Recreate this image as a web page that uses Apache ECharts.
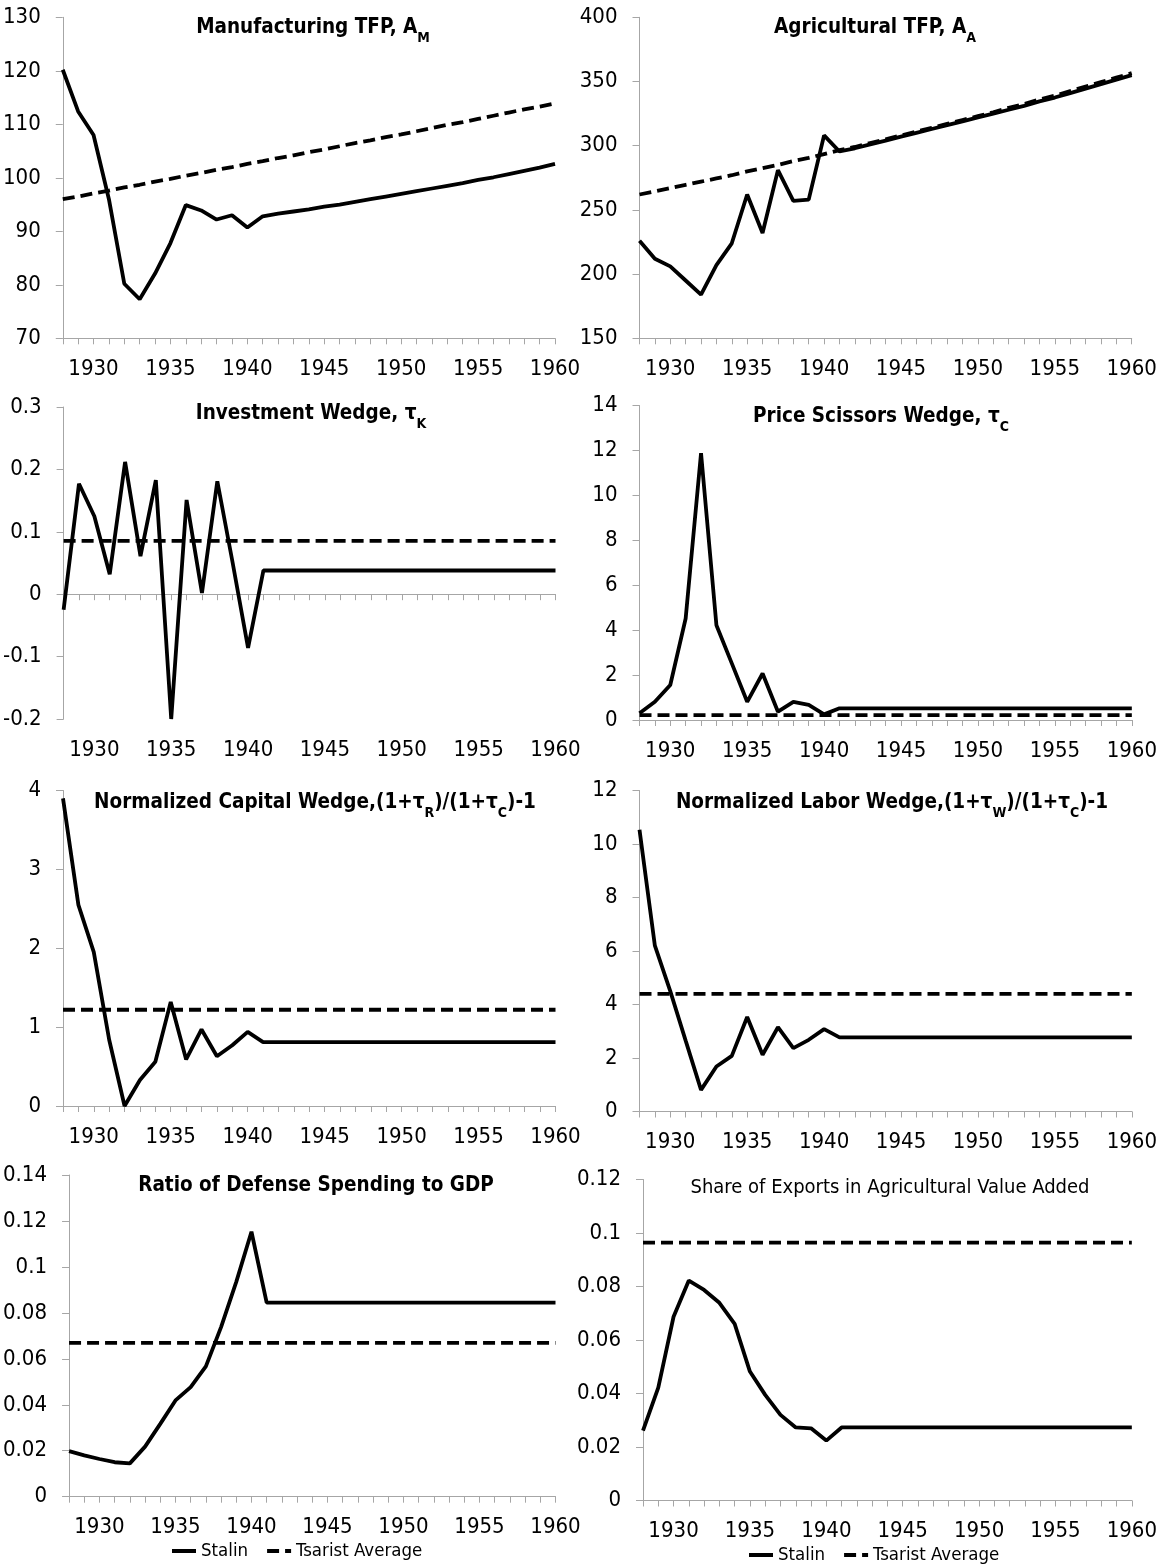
<!DOCTYPE html>
<html><head><meta charset="utf-8">
<script src="https://cdn.jsdelivr.net/npm/echarts@6/dist/echarts.min.js"></script>
<style>html,body{margin:0;padding:0;background:#fff}#c{width:1160px;height:1568px}</style>
</head><body><div id="c"></div>
<script>
// ---------------- DATA ----------------
const years = ['1928','1929','1930','1931','1932','1933','1934','1935','1936','1937','1938','1939','1940',
  '1941','1942','1943','1944','1945','1946','1947','1948','1949','1950','1951','1952','1953','1954','1955',
  '1956','1957','1958','1959','1960'];

const mfgStalin = [120.2,112.4,108.0,96.0,80.2,77.3,82.1,87.8,94.9,93.9,92.2,93.0,90.7,
  92.8,93.3,93.7,94.1,94.6,95.0,95.5,96.0,96.5,97.0,97.5,98.0,98.5,99.0,99.6,100.1,100.7,101.3,101.9,102.6];
const mfgTsar = [96.0,96.5,97.1,97.6,98.2,98.7,99.3,99.8,100.4,100.9,101.5,102.0,102.6,
  103.1,103.7,104.2,104.8,105.3,105.9,106.5,107.0,107.6,108.1,108.7,109.3,109.9,110.4,111.0,111.6,112.2,112.8,113.3,113.9];

const agrStalin = [226,212,206,195,184,207,224,262,232,281,257,258,308,
  295.5,298,301,304,307,310,313,316,319,322,325,328,331,334.5,337.5,341,344.5,348,351.5,355];
const agrTsar = [262,264.5,267,269.5,272,274.5,277,280,282.5,285,288,290.5,293.5,
  296.5,299,302,305,308,311,314,317,320,323,326,329.5,332.5,336,339,342.5,346,349.5,353,356.5];

const invStalin = [-0.025,0.177,0.125,0.032,0.212,0.061,0.183,-0.2,0.151,0.002,0.181,0.05,-0.086,
  0.038,0.038,0.038,0.038,0.038,0.038,0.038,0.038,0.038,0.038,0.038,0.038,0.038,0.038,0.038,0.038,0.038,0.038,0.038,0.038];
const invTsar = [0.0855,0.0855,0.0855,0.0855,0.0855,0.0855,0.0855,0.0855,0.0855,0.0855,0.0855,0.0855,0.0855,
  0.0855,0.0855,0.0855,0.0855,0.0855,0.0855,0.0855,0.0855,0.0855,0.0855,0.0855,0.0855,0.0855,0.0855,0.0855,0.0855,0.0855,0.0855,0.0855,0.0855];

const priceStalin = [0.3,0.81,1.56,4.52,11.88,4.22,2.52,0.81,2.07,0.37,0.81,0.67,0.25,
  0.52,0.52,0.52,0.52,0.52,0.52,0.52,0.52,0.52,0.52,0.52,0.52,0.52,0.52,0.52,0.52,0.52,0.52,0.52,0.52];
const priceTsar = [0.22,0.22,0.22,0.22,0.22,0.22,0.22,0.22,0.22,0.22,0.22,0.22,0.22,
  0.22,0.22,0.22,0.22,0.22,0.22,0.22,0.22,0.22,0.22,0.22,0.22,0.22,0.22,0.22,0.22,0.22,0.22,0.22,0.22];

const capStalin = [3.9,2.55,1.95,0.84,0.0,0.33,0.56,1.32,0.59,0.97,0.63,0.77,0.94,
  0.81,0.81,0.81,0.81,0.81,0.81,0.81,0.81,0.81,0.81,0.81,0.81,0.81,0.81,0.81,0.81,0.81,0.81,0.81,0.81];
const capTsar = [1.22,1.22,1.22,1.22,1.22,1.22,1.22,1.22,1.22,1.22,1.22,1.22,1.22,
  1.22,1.22,1.22,1.22,1.22,1.22,1.22,1.22,1.22,1.22,1.22,1.22,1.22,1.22,1.22,1.22,1.22,1.22,1.22,1.22];

const labStalin = [10.53,6.2,4.5,2.65,0.81,1.68,2.08,3.53,2.12,3.15,2.37,2.68,3.08,
  2.77,2.77,2.77,2.77,2.77,2.77,2.77,2.77,2.77,2.77,2.77,2.77,2.77,2.77,2.77,2.77,2.77,2.77,2.77,2.77];
const labTsar = [4.4,4.4,4.4,4.4,4.4,4.4,4.4,4.4,4.4,4.4,4.4,4.4,4.4,
  4.4,4.4,4.4,4.4,4.4,4.4,4.4,4.4,4.4,4.4,4.4,4.4,4.4,4.4,4.4,4.4,4.4,4.4,4.4,4.4];

const defStalin = [0.0198,0.018,0.0164,0.015,0.0145,0.0218,0.0317,0.0419,0.0477,0.0567,0.0738,0.0935,0.1153,
  0.0845,0.0845,0.0845,0.0845,0.0845,0.0845,0.0845,0.0845,0.0845,0.0845,0.0845,0.0845,0.0845,0.0845,0.0845,0.0845,0.0845,0.0845,0.0845,0.0845];
const defTsar = [0.0669,0.0669,0.0669,0.0669,0.0669,0.0669,0.0669,0.0669,0.0669,0.0669,0.0669,0.0669,0.0669,
  0.0669,0.0669,0.0669,0.0669,0.0669,0.0669,0.0669,0.0669,0.0669,0.0669,0.0669,0.0669,0.0669,0.0669,0.0669,0.0669,0.0669,0.0669,0.0669,0.0669];

const expStalin = [0.0261,0.0422,0.0687,0.0822,0.0787,0.0739,0.066,0.0482,0.0395,0.032,0.0273,0.027,0.0224,
  0.0273,0.0273,0.0273,0.0273,0.0273,0.0273,0.0273,0.0273,0.0273,0.0273,0.0273,0.0273,0.0273,0.0273,0.0273,0.0273,0.0273,0.0273,0.0273,0.0273];
const expTsar = [0.0964,0.0964,0.0964,0.0964,0.0964,0.0964,0.0964,0.0964,0.0964,0.0964,0.0964,0.0964,0.0964,
  0.0964,0.0964,0.0964,0.0964,0.0964,0.0964,0.0964,0.0964,0.0964,0.0964,0.0964,0.0964,0.0964,0.0964,0.0964,0.0964,0.0964,0.0964,0.0964,0.0964];

const titles = [
  'Manufacturing TFP, A{s|M}',
  'Agricultural TFP, A{s|A}',
  'Investment Wedge, τ{s|K}',
  'Price Scissors Wedge, τ{s|C}',
  'Normalized Capital Wedge,(1+τ{s|R})/(1+τ{s|C})-1',
  'Normalized Labor Wedge,(1+τ{s|W})/(1+τ{s|C})-1',
  'Ratio of Defense Spending to GDP',
  'Share of Exports in Agricultural Value Added'
];
const seriesNames = ['Stalin', 'Tsarist Average'];

// ---------------- LAYOUT ----------------
const FONT = '"DejaVu Sans Condensed", "Liberation Sans Narrow", sans-serif';
const GRAY = '#a6a6a6';
const panels = [
  {s: mfgStalin, t: mfgTsar, min: 70, max: 130, iv: 10, g: [62.7, 17.3, 492.3, 321], tc: [313, 28], tf: 20.5},
  {s: agrStalin, t: agrTsar, min: 150, max: 400, iv: 50, g: [639.5, 17.3, 492.2, 321], tc: [875, 28], tf: 20.5},
  {s: invStalin, t: invTsar, min: -0.2, max: 0.3, iv: 0.1, g: [62.5, 407, 493, 312], tc: [311, 414], tf: 20.5, zero: true},
  {s: priceStalin, t: priceTsar, min: 0, max: 14, iv: 2, g: [639.5, 405.5, 492.5, 314.5], tc: [881, 417], tf: 20.5},
  {s: capStalin, t: capTsar, min: 0, max: 4, iv: 1, g: [63, 790.5, 492.5, 315.5], tc: [315, 803], tf: 20.5},
  {s: labStalin, t: labTsar, min: 0, max: 12, iv: 2, g: [639.5, 790.5, 492.5, 321], tc: [892, 803], tf: 20.5},
  {s: defStalin, t: defTsar, min: 0, max: 0.14, iv: 0.02, g: [66.5, 1175, 489, 321.7], tc: [316, 1186], tf: 20.5},
  {s: expStalin, t: expTsar, min: 0, max: 0.12, iv: 0.02, g: [643, 1179.5, 489.5, 321], tc: [890, 1188], tf: 20, tw: 'normal'}
];

const grid = [], xAxis = [], yAxis = [], series = [], title = [];
const lineSt = {color: GRAY, width: 1};
panels.forEach((p, i) => {
  grid.push({left: p.g[0], top: p.g[1], width: p.g[2], height: p.g[3], containLabel: false});
  const labelAxisIndex = xAxis.length;
  xAxis.push({
    type: 'category', gridIndex: i, data: years, boundaryGap: false, position: 'bottom',
    axisLine: {show: !p.zero, onZero: false, lineStyle: lineSt},
    axisTick: {show: !p.zero, interval: 0, length: 6, lineStyle: lineSt},
    axisLabel: {interval: (idx, val) => (+val) % 5 === 0, margin: 20, fontSize: 22, color: '#000', fontFamily: FONT},
    splitLine: {show: false}
  });
  if (p.zero) {
    xAxis.push({
      type: 'category', gridIndex: i, data: years, boundaryGap: false, position: 'bottom',
      axisLine: {show: true, onZero: true, lineStyle: lineSt},
      axisTick: {show: true, interval: 0, length: 6, lineStyle: lineSt},
      axisLabel: {show: false}, splitLine: {show: false}
    });
  }
  yAxis.push({
    type: 'value', gridIndex: i, min: p.min, max: p.max, interval: p.iv,
    axisLine: {show: true, lineStyle: lineSt},
    axisTick: {show: true, length: 7, lineStyle: lineSt},
    splitLine: {show: false},
    axisLabel: {margin: 22, fontSize: 22, color: '#000', fontFamily: FONT,
      formatter: v => String(+(+v).toFixed(4))}
  });
  series.push({
    type: 'line', name: seriesNames[0], xAxisIndex: labelAxisIndex, yAxisIndex: i, data: p.s,
    symbol: 'none', showSymbol: false, lineStyle: {color: '#000', width: 3.8}, itemStyle: {color: '#000'},
    animation: false
  });
  series.push({
    type: 'line', name: seriesNames[1], xAxisIndex: labelAxisIndex, yAxisIndex: i, data: p.t,
    symbol: 'none', showSymbol: false, lineStyle: {color: '#000', width: 3.8, type: [12, 6]}, itemStyle: {color: '#000'},
    animation: false
  });
  const tw = p.tw || 'bold';
  title.push({
    text: titles[i], left: p.tc[0], top: p.tc[1] - 17, textAlign: 'center', padding: 0,
    textStyle: {
      fontFamily: FONT, fontWeight: tw, fontSize: p.tf, color: '#000', lineHeight: 34,
      rich: {s: {fontFamily: FONT, fontWeight: tw, fontSize: 14, lineHeight: 15, verticalAlign: 'bottom', color: '#000'}}
    }
  });
});

const legendBase = {
  data: seriesNames, itemWidth: 24, itemHeight: 14, itemGap: 17, padding: 0,
  textStyle: {fontFamily: FONT, fontSize: 18.5, color: '#000', lineHeight: 22},
  itemStyle: {color: 'transparent', borderWidth: 0},
  lineStyle: {width: 4}
};
const legend = [
  Object.assign({}, legendBase, {left: 170, top: 1540}),
  Object.assign({}, legendBase, {left: 747, top: 1544})
];

const chart = echarts.init(document.getElementById('c'), null, {renderer: 'canvas'});
chart.setOption({
  animation: false, backgroundColor: '#fff',
  title, grid, xAxis, yAxis, series, legend
});
</script></body></html>
